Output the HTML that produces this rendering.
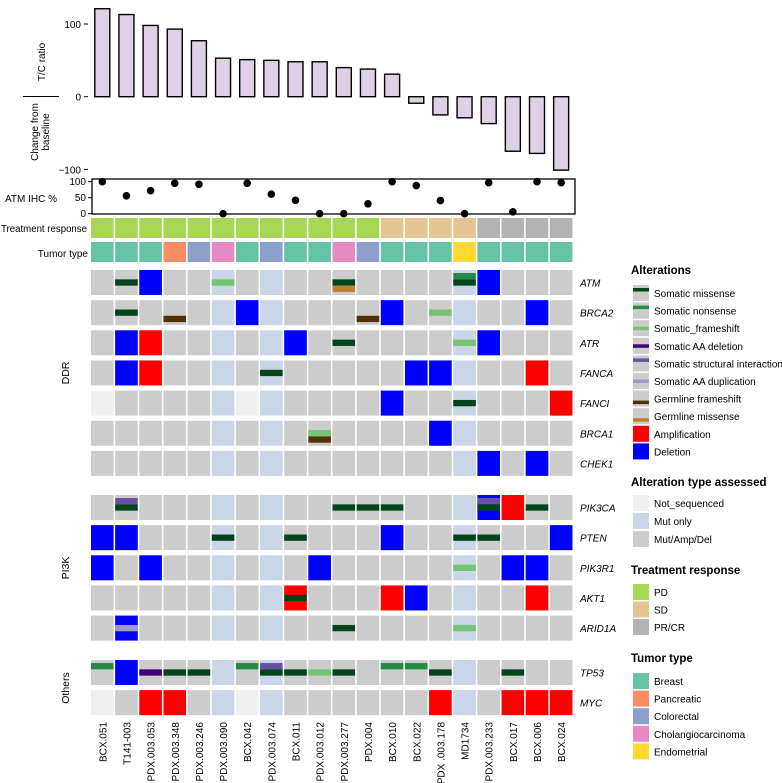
<!DOCTYPE html>
<html><head><meta charset="utf-8"><style>
body{margin:0;background:#fff}
svg{font-family:"Liberation Sans",sans-serif;display:block}
</style></head><body>
<svg id="c" width="782" height="783" viewBox="0 0 782 783" xmlns="http://www.w3.org/2000/svg"></svg>
<script>
const samples=["BCX.051","T141-003","PDX.003.053","PDX.003.348","PDX.003.246","PDX.003.090","BCX.042","PDX.003.074","BCX.011","PDX.003.012","PDX.003.277","PDX.004","BCX.010","BCX.022","PDX .003.178","MD1734","PDX.003.233","BCX.017","BCX.006","BCX.024"];
const tcRatio=[121,113,98,93,77,53,51,50,48,48,40,38,31,-9,-25,-29,-37,-75,-78,-101];
const atmIhc=[100,56,72,95,92,0,95,61,42,0,0,31,100,88,41,0,97,6,100,97];
const response=["PD","PD","PD","PD","PD","PD","PD","PD","PD","PD","PD","PD","SD","SD","SD","SD","PR/CR","PR/CR","PR/CR","PR/CR"];
const tumor=["Breast","Breast","Breast","Pancreatic","Colorectal","Cholangiocarcinoma","Breast","Colorectal","Breast","Breast","Cholangiocarcinoma","Colorectal","Breast","Breast","Breast","Endometrial","Breast","Breast","Breast","Breast"];
const genes=[["ATM","DDR"],["BRCA2","DDR"],["ATR","DDR"],["FANCA","DDR"],["FANCI","DDR"],["BRCA1","DDR"],["CHEK1","DDR"],["PIK3CA","PI3K"],["PTEN","PI3K"],["PIK3R1","PI3K"],["AKT1","PI3K"],["ARID1A","PI3K"],["TP53","Others"],["MYC","Others"]];
const mutOnlyCols=[6,8,16];
const notSeq=[["FANCI",1],["FANCI",7],["MYC",1],["MYC",7]];
// [gene, column(1-based), type, slot]
const alterations=[
["ATM",2,"mis",0],["ATM",3,"del"],["ATM",6,"fs",0],["ATM",11,"mis",0],["ATM",11,"gmis",1],["ATM",16,"non",-1],["ATM",16,"mis",0],["ATM",17,"del"],
["BRCA2",2,"mis",0],["BRCA2",4,"gfs",1],["BRCA2",7,"del"],["BRCA2",12,"gfs",1],["BRCA2",13,"del"],["BRCA2",15,"fs",0],["BRCA2",19,"del"],
["ATR",2,"del"],["ATR",3,"amp"],["ATR",9,"del"],["ATR",11,"mis",0],["ATR",16,"fs",0],["ATR",17,"del"],
["FANCA",2,"del"],["FANCA",3,"amp"],["FANCA",8,"mis",0],["FANCA",14,"del"],["FANCA",15,"del"],["FANCA",19,"amp"],
["FANCI",13,"del"],["FANCI",16,"mis",0],["FANCI",20,"amp"],
["BRCA1",10,"fs",0],["BRCA1",10,"gfs",1],["BRCA1",15,"del"],
["CHEK1",17,"del"],["CHEK1",19,"del"],
["PIK3CA",2,"struct",-1],["PIK3CA",2,"mis",0],["PIK3CA",11,"mis",0],["PIK3CA",12,"mis",0],["PIK3CA",13,"mis",0],["PIK3CA",17,"del"],["PIK3CA",17,"struct",-1],["PIK3CA",17,"mis",0],["PIK3CA",18,"amp"],["PIK3CA",19,"mis",0],
["PTEN",1,"del"],["PTEN",2,"del"],["PTEN",6,"mis",0],["PTEN",9,"mis",0],["PTEN",13,"del"],["PTEN",16,"mis",0],["PTEN",17,"mis",0],["PTEN",20,"del"],
["PIK3R1",1,"del"],["PIK3R1",3,"del"],["PIK3R1",10,"del"],["PIK3R1",16,"fs",0],["PIK3R1",18,"del"],["PIK3R1",19,"del"],
["AKT1",9,"amp"],["AKT1",9,"mis",0],["AKT1",13,"amp"],["AKT1",14,"del"],["AKT1",19,"amp"],
["ARID1A",2,"del"],["ARID1A",2,"dup",0],["ARID1A",11,"mis",0],["ARID1A",16,"fs",0],
["TP53",1,"non",-1],["TP53",2,"del"],["TP53",3,"aadel",0],["TP53",4,"mis",0],["TP53",5,"mis",0],["TP53",7,"non",-1],["TP53",8,"struct",-1],["TP53",8,"mis",0],["TP53",9,"mis",0],["TP53",10,"fs",0],["TP53",11,"mis",0],["TP53",13,"non",-1],["TP53",14,"non",-1],["TP53",15,"mis",0],["TP53",18,"mis",0],
["MYC",3,"amp"],["MYC",4,"amp"],["MYC",15,"amp"],["MYC",18,"amp"],["MYC",19,"amp"],["MYC",20,"amp"]
];
const altColor={mis:"#00441b",non:"#238b45",fs:"#74c476",aadel:"#3f007d",struct:"#6a51a3",dup:"#9e9ac8",gfs:"#543005",gmis:"#bf812d",amp:"#ff0000",del:"#0000ff"};
const respColor={"PD":"#a6d854","SD":"#e5c494","PR/CR":"#b3b3b3"};
const tumorColor={"Breast":"#66c2a5","Pancreatic":"#fc8d62","Colorectal":"#8da0cb","Cholangiocarcinoma":"#e78ac3","Endometrial":"#ffd92f"};

const svg=document.getElementById('c');const NS="http://www.w3.org/2000/svg";
function mk(t,a,p){const e=document.createElementNS(NS,t);for(const k in a)e.setAttribute(k,a[k]);(p||svg).appendChild(e);return e;}
function tx(x,y,s,a,name){const e=mk('text',Object.assign({x:x,y:y,'font-size':11,fill:'#000'},a||{}));e.textContent=s;

return e;}
const X0=91,PITCH=24.15,CW=22.6,CH=25;
const colX=i=>X0+i*PITCH;
// bar chart
const yB=v=>96.7-v*0.727;
const gB=mk('g',{});


tcRatio.forEach((v,i)=>{const cx=colX(i)+CW/2;const y1=Math.min(yB(v),yB(0)),h=Math.abs(yB(v)-yB(0));
const r=mk('rect',{x:cx-7.5,y:y1,width:15,height:Math.max(h,1),fill:'#e0d0e6',stroke:'#000','stroke-width':1.4},gB);

});
[100,0,-100].forEach(t=>{mk('line',{x1:84,x2:88,y1:yB(t),y2:yB(t),stroke:'#000'});tx(81,yB(t)+4,t<0?'\u2212'+(-t):String(t),{'text-anchor':'end','font-size':10},'y-tick-label');});
mk('line',{x1:23,x2:59,y1:96.5,y2:96.5,stroke:'#000','stroke-width':1});
tx(0,0,'T/C ratio',{transform:'translate(45,62) rotate(-90)','text-anchor':'middle','font-size':10},'y-axis-title-tc');
tx(0,0,'Change from',{transform:'translate(38,132) rotate(-90)','text-anchor':'middle','font-size':10},'y-axis-title-change');
tx(0,0,'baseline',{transform:'translate(49,132) rotate(-90)','text-anchor':'middle','font-size':10},'y-axis-title-baseline');
// IHC
const yI=v=>213.7-v*0.32;
mk('rect',{x:92,y:179,width:483,height:35,fill:'none',stroke:'#000','stroke-width':1.3});
[100,50,0].forEach(t=>{mk('line',{x1:88,x2:92,y1:yI(t),y2:yI(t),stroke:'#000'});tx(86,yI(t)+3.5,String(t),{'text-anchor':'end','font-size':10},'ihc-tick-label');});
tx(5,202,'ATM IHC %',{'font-size':10},'ihc-axis-title');
atmIhc.forEach((v,i)=>{const c=mk('circle',{cx:colX(i)+CW/2,cy:yI(v),r:3.8,fill:'#000'});

});
// annotation rows
tx(1,232,'Treatment response',{'font-size':10,textLength:86,lengthAdjust:'spacingAndGlyphs'},'treatment-response-label');
tx(88,257,'Tumor type',{'text-anchor':'end','font-size':10},'tumor-type-label');
samples.forEach((s,i)=>{
 const a=mk('rect',{x:colX(i),y:218,width:CW,height:20,fill:respColor[response[i]]});
 
 
 const b=mk('rect',{x:colX(i),y:242,width:CW,height:20,fill:tumorColor[tumor[i]]});
 
 
 tx(0,0,s,{transform:`translate(${colX(i)+CW/2+4},722) rotate(-90)`,'text-anchor':'end','font-size':10},'sample-label');
});
// oncoprint
const rowTop={};
genes.forEach(([g,grp],k)=>{let y;if(grp==='DDR')y=270+k*30.15;else if(grp==='PI3K')y=495+(k-7)*30.15;else y=660+(k-12)*30.15;rowTop[g]=y;});
genes.forEach(([g])=>{
 const y=rowTop[g];
 samples.forEach((s,i)=>{let f='#cccccc';if(mutOnlyCols.includes(i+1))f='#cbd5e8';
  if(notSeq.some(n=>n[0]===g&&n[1]===i+1))f='#f0f0f0';
  const r=mk('rect',{x:colX(i),y:y,width:CW,height:CH,fill:f});
  
  });
 tx(580,y+CH/2+4,g,{'font-style':'italic','font-size':10},'gene-label');
});
const sorted=alterations.slice().sort((a,b)=>((a[2]==='amp'||a[2]==='del')?0:1)-((b[2]==='amp'||b[2]==='del')?0:1));
sorted.forEach(([g,c,t,slot])=>{const y=rowTop[g],x=colX(c-1);let r;
 if(t==='amp'||t==='del')r=mk('rect',{x:x,y:y,width:CW,height:CH,fill:altColor[t]});
 else{const bh=6.3;const cy=y+CH/2+slot*bh;r=mk('rect',{x:x,y:cy-bh/2,width:CW,height:bh,fill:altColor[t]});}
 
 });
tx(0,0,'DDR',{transform:'translate(69,373) rotate(-90)','text-anchor':'middle','font-size':10.5},'group-label-ddr');
tx(0,0,'PI3K',{transform:'translate(69,568) rotate(-90)','text-anchor':'middle','font-size':10.5},'group-label-pi3k');
tx(0,0,'Others',{transform:'translate(69,688) rotate(-90)','text-anchor':'middle','font-size':10.5},'group-label-others');
// legend
const LX=633;
function legItem(y,label,bg,bar,barPos){const r=mk('rect',{x:LX,y:y,width:16,height:16,fill:bg});
 
 
 if(bar){mk('rect',{x:LX,y:y+(barPos==='top'?3:barPos==='bot'?10:6.5),width:16,height:3.5,fill:bar});}
 tx(654,y+12,label,{'font-size':10},'legend-entry');}
tx(631,274,'Alterations',{'font-weight':'bold','font-size':11.5},'legend-title-alterations');
const altLeg=[["Somatic missense","mis","top"],["Somatic nonsense","non","top"],["Somatic_frameshift","fs","mid"],["Somatic AA deletion","aadel","mid"],["Somatic structural interaction","struct","top"],["Somatic AA duplication","dup","mid"],["Germline frameshift","gfs","bot"],["Germline missense","gmis","bot"]];
altLeg.forEach((a,k)=>legItem(285+k*17.6,a[0],'#cccccc',altColor[a[1]],a[2]));
legItem(285+8*17.6,'Amplification',altColor.amp);
legItem(285+9*17.6,'Deletion',altColor.del);
tx(631,486,'Alteration type assessed',{'font-weight':'bold','font-size':11.5},'legend-title-assessed');
legItem(495,'Not_sequenced','#f0f0f0');legItem(513,'Mut only','#cbd5e8');legItem(531,'Mut/Amp/Del','#cccccc');
tx(631,574,'Treatment response',{'font-weight':'bold','font-size':11.5},'legend-title-response');
legItem(584,'PD',respColor.PD);legItem(601.5,'SD',respColor.SD);legItem(619,'PR/CR',respColor['PR/CR']);
tx(631,662,'Tumor type',{'font-weight':'bold','font-size':11.5},'legend-title-tumor');
Object.keys(tumorColor).forEach((k,j)=>legItem(673+j*17.6,k,tumorColor[k]));
</script>
</body></html>
